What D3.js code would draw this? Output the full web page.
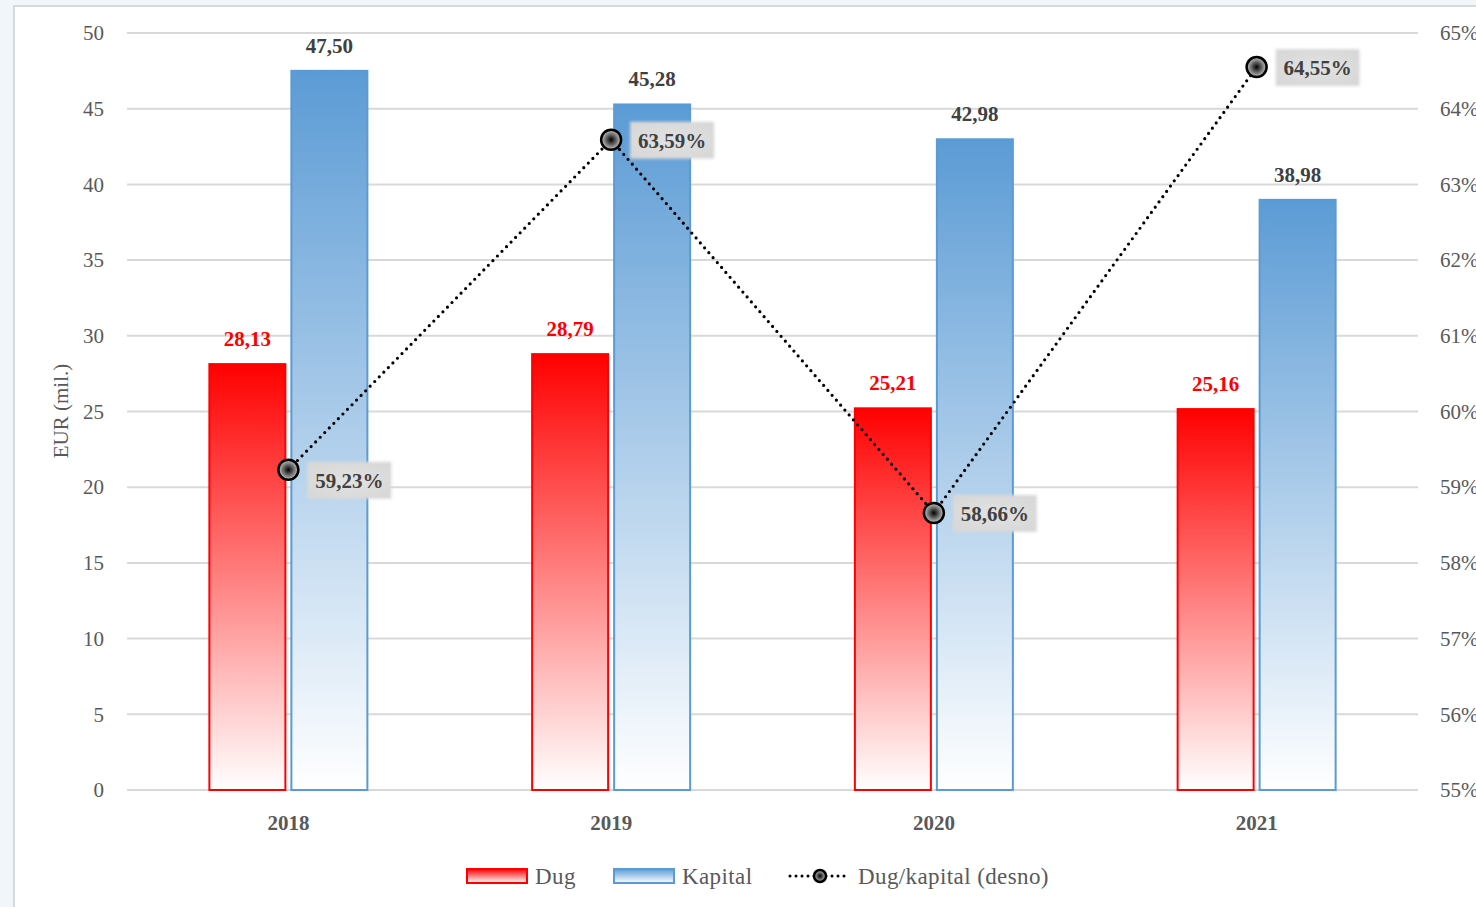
<!DOCTYPE html>
<html><head><meta charset="utf-8">
<script src="https://cdn.jsdelivr.net/npm/d3@7/dist/d3.min.js"></script>
<style>
html,body{margin:0;padding:0;background:#f1f6fb;}
svg{display:block;}
</style></head>
<body>
<script>
const categories = ["2018", "2019", "2020", "2021"];
const dug = [28.13, 28.79, 25.21, 25.16];
const kapital = [47.50, 45.28, 42.98, 38.98];
const ratio = [59.23, 63.59, 58.66, 64.55];
const leftTicks = [0, 5, 10, 15, 20, 25, 30, 35, 40, 45, 50];
const rightTicks = [55, 56, 57, 58, 59, 60, 61, 62, 63, 64, 65];

const W = 1476, H = 907;
const FONT = "'Liberation Serif', 'DejaVu Serif', serif";
const svg = d3.select("body").append("svg").attr("width", W).attr("height", H)
  .style("font-family", FONT);

const defs = svg.append("defs");
const gR = defs.append("linearGradient").attr("id", "gRed").attr("x1", 0).attr("y1", 0).attr("x2", 0).attr("y2", 1);
gR.append("stop").attr("offset", "0%").attr("stop-color", "#ff0000");
gR.append("stop").attr("offset", "100%").attr("stop-color", "#ffffff");
const gB = defs.append("linearGradient").attr("id", "gBlue").attr("x1", 0).attr("y1", 0).attr("x2", 0).attr("y2", 1);
gB.append("stop").attr("offset", "0%").attr("stop-color", "#5b9bd5");
gB.append("stop").attr("offset", "100%").attr("stop-color", "#ffffff");
const gM = defs.append("radialGradient").attr("id", "gMark");
gM.append("stop").attr("offset", "0%").attr("stop-color", "#000000");
gM.append("stop").attr("offset", "100%").attr("stop-color", "#c8c8c8");
const gL = defs.append("radialGradient").attr("id", "gLab").attr("r", "75%");
gL.append("stop").attr("offset", "0%").attr("stop-color", "#e2e2e2");
gL.append("stop").attr("offset", "100%").attr("stop-color", "#d6d6d6");
const blur = defs.append("filter").attr("id", "soft").attr("x", "-20%").attr("y", "-30%").attr("width", "140%").attr("height", "160%");
blur.append("feGaussianBlur").attr("stdDeviation", 1.5);

// chart box
svg.append("rect").attr("x", 14).attr("y", 6).attr("width", W).attr("height", H)
  .attr("fill", "#ffffff").attr("stroke", "#d9d9d9").attr("stroke-width", 2);

const L = 127, R = 1418, T = 33, B = 790;
const x = d3.scaleBand().domain(categories).range([L, R]);
const y = d3.scaleLinear().domain([0, 50]).range([B, T]);
const y2 = d3.scaleLinear().domain([55, 65]).range([B, T]);

// grid
svg.append("g").selectAll("line").data(leftTicks).join("line")
  .attr("x1", L).attr("x2", R).attr("y1", d => y(d)).attr("y2", d => y(d))
  .attr("stroke", "#d9d9d9").attr("stroke-width", 2);

// left axis
const la = svg.append("g").attr("transform", `translate(${L},0)`)
  .call(d3.axisLeft(y).tickValues(leftTicks).tickSize(0).tickPadding(23));
la.select(".domain").remove();
la.selectAll("text").attr("fill", "#595959").style("font-size", "21px").style("font-family", FONT);

// right axis
const ra = svg.append("g").attr("transform", `translate(${R},0)`)
  .call(d3.axisRight(y2).tickValues(rightTicks).tickSize(0).tickPadding(22).tickFormat(d => d + "%"));
ra.select(".domain").remove();
ra.selectAll("text").attr("fill", "#595959").style("font-size", "21px").style("font-family", FONT);

// x axis
const xa = svg.append("g").attr("transform", `translate(0,${B})`)
  .call(d3.axisBottom(x).tickSize(0).tickPadding(25));
xa.select(".domain").remove();
xa.selectAll("text").attr("fill", "#595959").style("font-size", "21px").style("font-weight", "bold").style("font-family", FONT);

// y title
svg.append("text").attr("transform", `translate(68,411) rotate(-90)`)
  .attr("text-anchor", "middle").attr("fill", "#595959").style("font-size", "21px").text("EUR (mil.)");

const bw = 76, gap = 6;
const cx = d => x(d) + x.bandwidth() / 2;

// bars
svg.append("g").selectAll("rect").data(categories).join("rect")
  .attr("x", d => cx(d) - gap / 2 - bw).attr("width", bw)
  .attr("y", (d, i) => y(dug[i])).attr("height", (d, i) => B - y(dug[i]))
  .attr("fill", "url(#gRed)").attr("stroke", "#ff0000").attr("stroke-width", 2);
svg.append("g").selectAll("rect").data(categories).join("rect")
  .attr("x", d => cx(d) + gap / 2).attr("width", bw)
  .attr("y", (d, i) => y(kapital[i])).attr("height", (d, i) => B - y(kapital[i]))
  .attr("fill", "url(#gBlue)").attr("stroke", "#5b9bd5").attr("stroke-width", 2);

const fmt = v => v.toFixed(2).replace(".", ",");
svg.append("g").selectAll("text").data(categories).join("text")
  .attr("x", d => cx(d) - gap / 2 - bw / 2).attr("y", (d, i) => y(dug[i]) - 18)
  .attr("text-anchor", "middle").attr("fill", "#ff0000").style("font-size", "21px").style("font-weight", "bold")
  .text((d, i) => fmt(dug[i]));
svg.append("g").selectAll("text").data(categories).join("text")
  .attr("x", d => cx(d) + gap / 2 + bw / 2).attr("y", (d, i) => y(kapital[i]) - 18)
  .attr("text-anchor", "middle").attr("fill", "#404040").style("font-size", "21px").style("font-weight", "bold")
  .text((d, i) => fmt(kapital[i]));

// line
const line = d3.line().x((d, i) => cx(categories[i])).y(d => y2(d));
svg.append("path").datum(ratio).attr("d", line).attr("fill", "none")
  .attr("stroke", "#000").attr("stroke-width", 3.2).attr("stroke-dasharray", "0 6.5").attr("stroke-linecap", "round");

// labels
const labDy = [10, 0, 0, 0];
const lg = svg.append("g").selectAll("g").data(categories).join("g")
  .attr("transform", (d, i) => `translate(${cx(d) + 19},${y2(ratio[i]) + labDy[i]})`);
lg.append("rect").attr("x", 0).attr("y", -18).attr("width", 84).attr("height", 37)
  .attr("fill", "#d9d9d9").attr("filter", "url(#soft)");
lg.append("rect").attr("x", 2).attr("y", -16).attr("width", 80).attr("height", 33)
  .attr("fill", "url(#gLab)");
lg.append("text").attr("x", 42).attr("y", 8).attr("text-anchor", "middle")
  .attr("fill", "#404040").style("font-size", "21px").style("font-weight", "bold")
  .text((d, i) => ratio[i].toFixed(2).replace(".", ",") + "%");

// markers
svg.append("g").selectAll("circle").data(categories).join("circle")
  .attr("cx", d => cx(d)).attr("cy", (d, i) => y2(ratio[i])).attr("r", 10)
  .attr("fill", "url(#gMark)").attr("stroke", "#000").attr("stroke-width", 2.5);

// legend
const leg = svg.append("g").style("font-size", "23px").style("letter-spacing", "0.4px").attr("fill", "#595959");
leg.append("rect").attr("x", 467).attr("y", 869).attr("width", 60).attr("height", 14)
  .attr("fill", "url(#gRed)").attr("stroke", "#ff0000").attr("stroke-width", 2);
leg.append("text").attr("x", 535).attr("y", 884).text("Dug");
leg.append("rect").attr("x", 614).attr("y", 869).attr("width", 60).attr("height", 14)
  .attr("fill", "url(#gBlue)").attr("stroke", "#5b9bd5").attr("stroke-width", 2);
leg.append("text").attr("x", 682).attr("y", 884).text("Kapital");
leg.append("line").attr("x1", 790).attr("x2", 850).attr("y1", 876).attr("y2", 876)
  .attr("stroke", "#000").attr("stroke-width", 3).attr("stroke-dasharray", "0 6").attr("stroke-linecap", "round");
leg.append("circle").attr("cx", 820).attr("cy", 876).attr("r", 6)
  .attr("fill", "url(#gMark)").attr("stroke", "#000").attr("stroke-width", 2.5);
leg.append("text").attr("x", 858).attr("y", 884).text("Dug/kapital (desno)");
</script>
</body></html>
